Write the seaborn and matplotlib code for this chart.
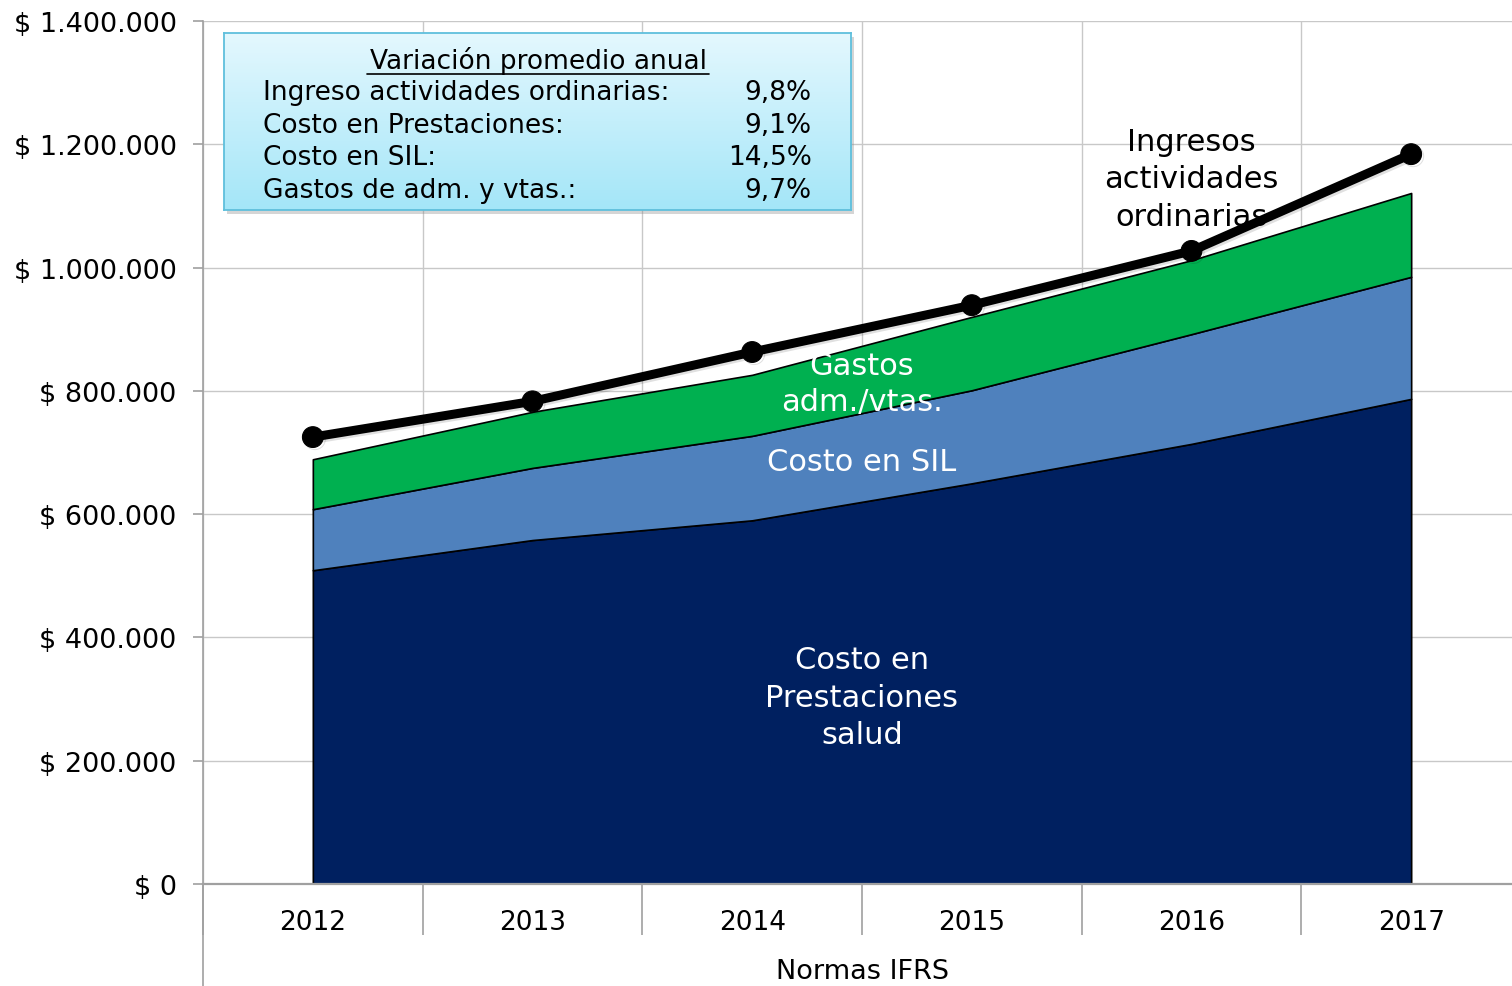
import numpy as np
import pandas as pd
import matplotlib
matplotlib.use("Agg")
import matplotlib.pyplot as plt
import seaborn as sns
from matplotlib.ticker import FuncFormatter, FixedLocator
from matplotlib.patches import Rectangle
from matplotlib.lines import Line2D
from matplotlib.colors import LinearSegmentedColormap
import matplotlib.patheffects as pe

# data
years = ["2012", "2013", "2014", "2015", "2016", "2017"]
prestaciones = [509000, 558000, 590000, 650000, 714000, 787000]
sil = [99000, 117000, 137000, 151000, 178000, 198000]
gastos = [81000, 91000, 99000, 119000, 120000, 136000]
ingresos = [725000, 783000, 863000, 939000, 1027000, 1184000]

box_labels = ["Ingreso actividades ordinarias:", "Costo en Prestaciones:",
              "Costo en SIL:", "Gastos de adm. y vtas.:"]
box_values = ["9,8%", "9,1%", "14,5%", "9,7%"]

sns.set_style("white")
plt.rcParams["font.family"] = ["DejaVu Sans"]
plt.rcParams["text.color"] = "black"
plt.rcParams["xtick.color"] = "black"
plt.rcParams["ytick.color"] = "black"

df = pd.DataFrame({"pos": np.arange(len(years)), "year": years,
                   "prest": prestaciones, "sil": sil, "gastos": gastos,
                   "ingresos": ingresos})
df["lvl1"] = df["prest"]
df["lvl2"] = df["lvl1"] + df["sil"]
df["lvl3"] = df["lvl2"] + df["gastos"]

W, H = 1512, 987
fig = plt.figure(figsize=(W / 100, H / 100), dpi=100)
ax_left, ax_bottom = 203 / W, 102 / H
ax = fig.add_axes([ax_left, ax_bottom, 1318 / W, 863 / H])

grid_c = "#c8c8c8"
axis_c = "#a0a0a0"

# stacked areas
navy, blue, green = "#002060", "#4f81bd", "#00b050"
ax.fill_between(df["pos"], 0, df["lvl1"], color=navy, edgecolor="black", linewidth=1.2, zorder=2)
ax.fill_between(df["pos"], df["lvl1"], df["lvl2"], color=blue, edgecolor="black", linewidth=1.2, zorder=2)
ax.fill_between(df["pos"], df["lvl2"], df["lvl3"], color=green, edgecolor="black", linewidth=1.2, zorder=2)

# revenue line
sns.lineplot(data=df, x="pos", y="ingresos", ax=ax, color="black", linewidth=6.5,
             marker="o", markersize=15, markeredgecolor="black", zorder=4,
             path_effects=[pe.SimpleLineShadow(offset=(1.5, -1.5), alpha=0.12), pe.Normal()])

ax.set_xlim(-0.5, 5.5)
ax.set_ylim(0, 1400000)

ax.yaxis.set_major_locator(FixedLocator(np.arange(0, 1400001, 200000)))
ax.yaxis.set_major_formatter(FuncFormatter(lambda v, p: "$ " + f"{v:,.0f}".replace(",", ".")))
ax.set_xticks(df["pos"])
ax.set_xticklabels(years)
ax.set_xticks(np.arange(-0.5, 5.6, 1), minor=True)

ax.tick_params(axis="y", labelsize=19.5, length=7, width=1.2, color=axis_c, direction="out",
               pad=12, left=True, labelcolor="black")
ax.tick_params(axis="x", which="major", labelsize=19, length=0, pad=18, labelcolor="black")
ax.tick_params(axis="x", which="minor", length=37, width=1.2, color=axis_c, direction="out", bottom=True)

ax.grid(False)
ax.yaxis.grid(True, color=grid_c, linewidth=1)
ax.xaxis.grid(True, which="minor", color=grid_c, linewidth=1)
ax.set_axisbelow(True)

for s in ["top", "right"]:
    ax.spines[s].set_visible(False)
ax.spines["left"].set_color(axis_c)
ax.spines["left"].set_linewidth(1.2)
ax.spines["bottom"].set_color(axis_c)
ax.spines["bottom"].set_linewidth(1.6)
ax.set_xlabel("")
ax.set_ylabel("")

# left axis line continues down through the category label area
fig.add_artist(Line2D([ax_left, ax_left], [0, ax_bottom], transform=fig.transFigure,
                      color=axis_c, linewidth=1.2))
fig.text(862 / W, 1 - 972 / H, "Normas IFRS", ha="center", va="center", fontsize=19.5)

# labels inside areas
ax.text(2.5, 303000, "Costo en\nPrestaciones\nsalud", color="white", fontsize=22,
        ha="center", va="center", linespacing=1.38, zorder=5)
ax.text(2.5, 686000, "Costo en SIL", color="white", fontsize=22, ha="center", va="center", zorder=5)
ax.text(2.5, 812000, "Gastos\nadm./vtas.", color="white", fontsize=22, ha="center", va="center",
        linespacing=1.32, zorder=5)
ax.text(4, 1144000, "Ingresos\nactividades\nordinarias", color="black", fontsize=22,
        ha="center", va="center", linespacing=1.38, zorder=3)

# summary box with gradient fill and a soft shadow
bx0, bx1 = 224 / W, 851 / W
by0, by1 = 1 - 211 / H, 1 - 34 / H
ax.add_patch(Rectangle((bx0 + 3 / W, by0 - 4 / H), bx1 - bx0, by1 - by0, transform=fig.transFigure,
                       facecolor="#888888", alpha=0.35, edgecolor="none", zorder=6, clip_on=False))
bax = fig.add_axes([bx0, by0, bx1 - bx0, by1 - by0])
grad = np.linspace(0, 1, 256).reshape(-1, 1)
cmap = LinearSegmentedColormap.from_list("box", ["#e4f8fe", "#a4e6f8"])
bax.imshow(grad, aspect="auto", cmap=cmap, extent=[0, 1, 0, 1], origin="upper")
bax.set_xlim(0, 1)
bax.set_ylim(0, 1)
bax.set_xticks([])
bax.set_yticks([])
for s in bax.spines.values():
    s.set_color("#5fbfdc")
    s.set_linewidth(1.3)

def fx(px):
    return (px - 224) / (851 - 224)

def fy(py):
    return 1 - (py - 34) / (211 - 34)

bax.text(fx(538), fy(61), "Variación promedio anual", ha="center", va="center", fontsize=19)
bax.add_line(Line2D([fx(367), fx(709)], [fy(75), fy(75)], color="black", linewidth=1.2))
rows_y = [93, 126, 158, 191]
for lab, val, py in zip(box_labels, box_values, rows_y):
    bax.text(fx(263), fy(py), lab, ha="left", va="center", fontsize=19)
    bax.text(fx(812), fy(py), val, ha="right", va="center", fontsize=19)

fig.savefig("out.png", dpi=100)
